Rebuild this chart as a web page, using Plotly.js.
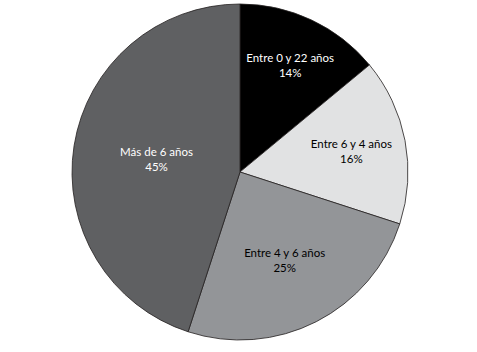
<!DOCTYPE html>
<html>
<head>
<meta charset="utf-8">
<script src="https://cdn.plot.ly/plotly-3.0.1.min.js"></script>
<style>html,body{margin:0;padding:0;background:#fff;}#chart{width:477px;height:352px;}</style>
</head>
<body>
<div id="chart"></div>
<script>
const categories = ["Entre 0 y 22 años", "Entre 6 y 4 años", "Entre 4 y 6 años", "Más de 6 años"];
const values = [14, 16, 25, 45];
const sliceColors = ["#000000", "#e1e2e3", "#939598", "#5f6062"];
const textColors = ["#ffffff", "#000000", "#000000", "#ffffff"];

Plotly.newPlot("chart", [{
  type: "pie",
  labels: categories,
  values: values,
  sort: false,
  direction: "clockwise",
  rotation: 0,
  marker: {colors: sliceColors, line: {color: "#231f20", width: 0.8}},
  texttemplate: "%{label}<br>%{value}%",
  textposition: "inside",
  insidetextorientation: "horizontal",
  textfont: {family: "Lato, 'Open Sans', sans-serif", size: 11.5, color: textColors},
  hoverinfo: "none",
  showlegend: false
}], {
  width: 477, height: 352,
  margin: {l: 3, r: 0, t: 4, b: 12},
  paper_bgcolor: "#ffffff",
  showlegend: false
}, {displayModeBar: false, staticPlot: true});
</script>
</body>
</html>
